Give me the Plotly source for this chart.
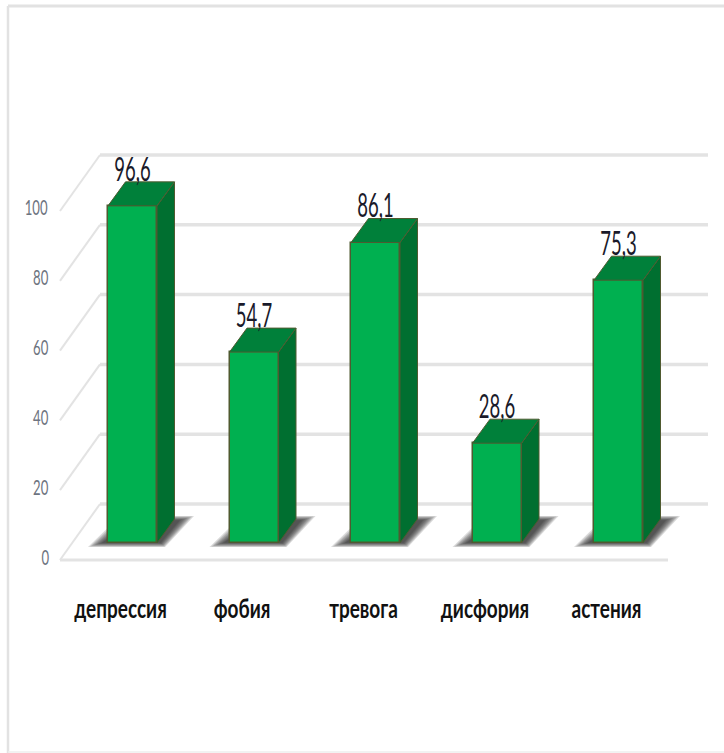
import plotly.graph_objects as go

categories = ["депрессия", "фобия", "тревога", "дисфория", "астения"]
values = [96.6, 54.7, 86.1, 28.6, 75.3]
grid_levels = [0, 20, 40, 60, 80, 100]

W, H = 724, 753
PLOT_BOTTOM = 595
X0, XS = 132.5, 121.5   # pixel of first bar centre, pixels per category
Y0, YS = 543.0, 3.49    # pixel of value 0 at bar base, pixels per unit
TICK_Y0, TICK_YS = 557.0, 3.5
BAR_W = 49 / XS
DX, DY = 17.5 / XS, 24 / YS

FRONT, TOP, SIDE, EDGE = "#00b050", "#00803a", "#006f30", "#4f5a30"
GRID = "#e3e3e3"
FONT = "Lato"


def px(p):
    return (p - X0) / XS


def py(p):
    return (Y0 - p) / YS


fig = go.Figure()

shapes = []
for lv in grid_levels:
    back_y = lv + (Y0 - 504) / YS
    front_y = back_y - 56 / YS
    shapes.append(dict(type="line", xref="x", yref="y", layer="below",
                       x0=px(100), x1=px(708), y0=back_y, y1=back_y,
                       line=dict(color=GRID, width=3.5)))
    shapes.append(dict(type="line", xref="x", yref="y", layer="below",
                       x0=px(60), x1=px(100), y0=front_y, y1=back_y,
                       line=dict(color=GRID, width=2)))
floor_y = (Y0 - 504) / YS - 56 / YS
shapes.append(dict(type="line", xref="x", yref="y", layer="below",
                   x0=px(60), x1=px(668), y0=floor_y, y1=floor_y,
                   line=dict(color=GRID, width=3)))

for i, _ in enumerate(values):
    left = i - BAR_W / 2
    right = i + BAR_W / 2
    for inset in (0, 2, 4, 6, 8, 10, 12, 14):
        ix = inset / XS
        iy = inset * 0.3 / YS
        a = (left - 20 / XS + ix, -4 / YS + iy)
        b = (right + 8 / XS - ix * 0.3, -4 / YS + iy)
        c = (right + 37 / XS - ix, 27 / YS - iy)
        d = (left + 12 / XS + ix, 27 / YS - iy)
        path = "M{} {} L{} {} L{} {} L{} {} Z".format(*a, *b, *c, *d)
        shapes.append(dict(type="path", xref="x", yref="y", layer="below",
                           path=path, fillcolor="rgba(30,30,30,0.16)",
                           line=dict(width=0)))


def paper_y(p):
    return (PLOT_BOTTOM - p) / PLOT_BOTTOM


for xa, ya, xb, yb, wd, col in [(8, 6, W, 6, 3, "#e2e2e2"),
                                (8, 6, 8, H, 2.5, "#e2e2e2"),
                                (8, 752, W, 752, 1.5, "#eeeeee")]:
    shapes.append(dict(type="line", xref="paper", yref="paper", layer="below",
                       x0=xa / W, x1=xb / W, y0=paper_y(ya), y1=paper_y(yb),
                       line=dict(color=col, width=wd)))

fig.add_trace(go.Bar(x=list(range(len(values))), y=values, width=BAR_W,
                     marker=dict(color=FRONT, line=dict(color=EDGE, width=1.5)),
                     hoverinfo="skip", showlegend=False, cliponaxis=False))

for i, v in enumerate(values):
    left = i - BAR_W / 2
    right = i + BAR_W / 2
    fig.add_trace(go.Scatter(
        x=[right, right + DX, right + DX, right, right],
        y=[0, DY, v + DY, v, 0],
        mode="lines", fill="toself", fillcolor=SIDE,
        line=dict(color=EDGE, width=1), hoverinfo="skip", showlegend=False))
    fig.add_trace(go.Scatter(
        x=[left, right, right + DX, left + DX, left],
        y=[v, v, v + DY, v + DY, v],
        mode="lines", fill="toself", fillcolor=TOP,
        line=dict(color=EDGE, width=1), hoverinfo="skip", showlegend=False))

fig.add_trace(go.Scatter(
    x=list(range(len(values))), y=[v + 10 for v in values],
    text=[str(v).replace(".", ",") for v in values],
    mode="text", textposition="middle center",
    textfont=dict(family=FONT, size=22, color="#1a1a2a"),
    hoverinfo="skip", showlegend=False))

fig.add_trace(go.Scatter(x=[0], y=[0], yaxis="y2", mode="markers",
                         marker=dict(opacity=0), hoverinfo="skip",
                         showlegend=False))

fig.update_layout(
    width=W, height=H, autosize=False,
    margin=dict(l=0, r=0, t=0, b=H - PLOT_BOTTOM),
    paper_bgcolor="white", plot_bgcolor="rgba(0,0,0,0)",
    shapes=shapes, bargap=0,
    xaxis=dict(range=[px(0), px(W)], showgrid=False, zeroline=False,
               showline=False, ticks="",
               tickmode="array",
               tickvals=[i - 12 / XS for i in range(len(categories))],
               ticktext=["<b>%s</b>" % c for c in categories],
               tickfont=dict(family=FONT, size=20, color="#111111")),
    yaxis=dict(range=[py(PLOT_BOTTOM), py(0)], visible=False, fixedrange=True),
    yaxis2=dict(range=[(TICK_Y0 - PLOT_BOTTOM) / TICK_YS, TICK_Y0 / TICK_YS],
                overlaying="y", anchor="free", position=50 / W, side="left",
                tickmode="array", tickvals=grid_levels,
                ticktext=[str(t) for t in grid_levels],
                showgrid=False, zeroline=False, showline=False, ticks="",
                tickfont=dict(family=FONT, size=16, color="#6d7480")),
)

# The reference image is stretched vertically, so its text is tall and narrow.
POST = """
document.body.style.margin = '0';
function stretch(selector, sx, sy) {
  document.querySelectorAll(selector).forEach(function (el) {
    var b = el.getBBox();
    var cx = b.x + b.width / 2, cy = b.y + b.height / 2;
    var old = el.getAttribute('transform') || '';
    el.setAttribute('transform', old + ' translate(' + cx + ',' + cy + ') scale(' +
      sx + ',' + sy + ') translate(' + (-cx) + ',' + (-cy) + ')');
  });
}
stretch('.textpoint text', 0.84, 1.5);
stretch('.y2tick text', 0.82, 1.35);
stretch('.xtick text', 0.95, 1.3);
"""

fig.write_html("out.html", post_script=POST, config={"displayModeBar": False})
